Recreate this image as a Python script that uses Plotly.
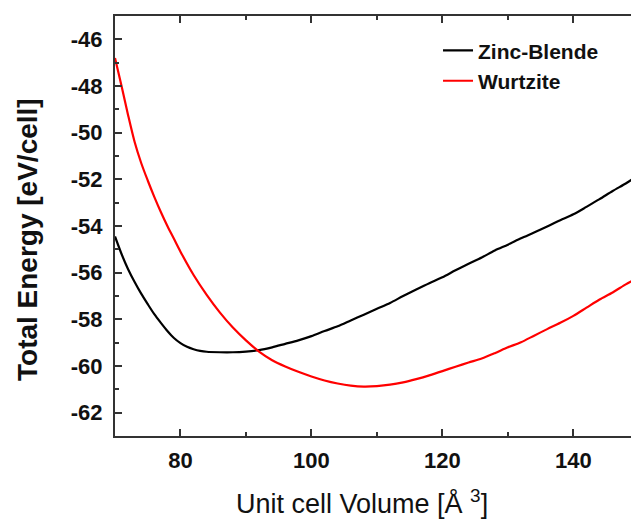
import plotly.graph_objects as go

zb_v = [70, 71, 72, 73, 74, 75, 76, 77, 78, 79, 80, 81, 82, 83, 84, 86, 88, 90, 92, 94, 96, 98,
        100, 102, 104, 106, 108, 110, 112, 114, 116, 118, 120, 122, 124, 126, 128, 130,
        132, 134, 136, 138, 140, 142, 144, 146, 148, 149]
zb_e = [-54.45, -55.2, -55.85, -56.4, -56.9, -57.35, -57.78, -58.15, -58.5, -58.8, -59.02,
        -59.18, -59.28, -59.35, -59.39, -59.41, -59.41, -59.38, -59.32, -59.2, -59.05, -58.9,
        -58.72, -58.5, -58.3, -58.05, -57.8, -57.55, -57.3, -57.0, -56.72, -56.45, -56.2,
        -55.9, -55.62, -55.35, -55.05, -54.8, -54.53, -54.28, -54.02, -53.75, -53.5,
        -53.18, -52.85, -52.5, -52.18, -52.0]

wz_v = [70, 71, 72, 73, 74, 75, 76, 77, 78, 79, 80, 82, 84, 86, 88, 90, 92, 94, 96, 98,
        100, 102, 104, 106, 108, 110, 112, 114, 116, 118, 120, 122, 124, 126, 128, 130,
        132, 134, 136, 138, 140, 142, 144, 146, 148, 149]
wz_e = [-46.8, -48.0, -49.25, -50.4, -51.3, -52.05, -52.75, -53.4, -54.0, -54.55, -55.1,
        -56.1, -56.95, -57.7, -58.35, -58.9, -59.38, -59.75, -60.02, -60.25,
        -60.45, -60.62, -60.75, -60.84, -60.88, -60.86, -60.8, -60.7, -60.56, -60.4, -60.22,
        -60.03, -59.85, -59.68, -59.45, -59.2, -58.98, -58.7, -58.42, -58.15, -57.85,
        -57.5, -57.15, -56.85, -56.5, -56.35]

x_ticks = [80, 100, 120, 140]
x_labels = ["80", "100", "120", "140"]
y_ticks = [-46, -48, -50, -52, -54, -56, -58, -60, -62]
y_labels = ["-46", "-48", "-50", "-52", "-54", "-56", "-58", "-60", "-62"]

fig = go.Figure()
fig.add_trace(go.Scatter(x=zb_v, y=zb_e, mode="lines", name="Zinc-Blende",
                         legendgroup="a",
                         line=dict(color="black", width=2.2, shape="spline", smoothing=0.8)))
fig.add_trace(go.Scatter(x=wz_v, y=wz_e, mode="lines", name="Wurtzite",
                         legendgroup="b",
                         line=dict(color="red", width=2.2, shape="spline", smoothing=0.8)))

tick_font = dict(family="Liberation Sans", size=22, color="#111")
fig.update_layout(
    width=631, height=519,
    margin=dict(l=115, r=0, t=16, b=83),
    plot_bgcolor="white", paper_bgcolor="white",
    font=dict(family="Liberation Sans", color="#111"),
    showlegend=True,
    legend=dict(x=0.626, y=0.966, xanchor="left", yanchor="top",
                bgcolor="rgba(0,0,0,0)", tracegroupgap=0,
                font=dict(family="Liberation Sans", size=21, color="#111", weight="bold")),
    xaxis=dict(range=[70, 148.8], tickvals=x_ticks,
               ticktext=["<b>%s</b>" % t for t in x_labels],
               ticks="inside", ticklen=7, tickwidth=1.5,
               tickcolor="#333", showline=True, linecolor="#333", linewidth=2, mirror="ticks",
               showgrid=False, zeroline=False,
               minor=dict(dtick=10, tick0=90, ticks="inside", ticklen=4, tickcolor="#333"),
               tickfont=tick_font, ticklabelstandoff=4),
    yaxis=dict(range=[-63, -45], tickvals=y_ticks,
               ticktext=["<b>%s</b>" % t for t in y_labels],
               ticks="inside", ticklen=7, tickwidth=1.5,
               tickcolor="#333", showline=True, linecolor="#333", linewidth=2,
               showgrid=False, zeroline=False,
               minor=dict(dtick=2, tick0=-45, ticks="inside", ticklen=4, tickcolor="#333"),
               tickfont=tick_font, ticklabelstandoff=6),
    annotations=[
        dict(text="Unit cell Volume [Å <sup>3</sup>]", xref="paper", yref="paper",
             x=(362 - 115) / 516, y=-(502 - 436) / 420, xanchor="center", yanchor="middle",
             showarrow=False, font=dict(family="Liberation Sans", size=27, color="#111")),
        dict(text="<b>Total Energy [eV/cell]</b>", xref="paper", yref="paper",
             x=-(115 - 27) / 516, y=(436 - 240) / 420, xanchor="center", yanchor="middle",
             textangle=-90, showarrow=False,
             font=dict(family="Liberation Sans", size=28, color="#111")),
    ],
)

fig.write_html("out.html")
